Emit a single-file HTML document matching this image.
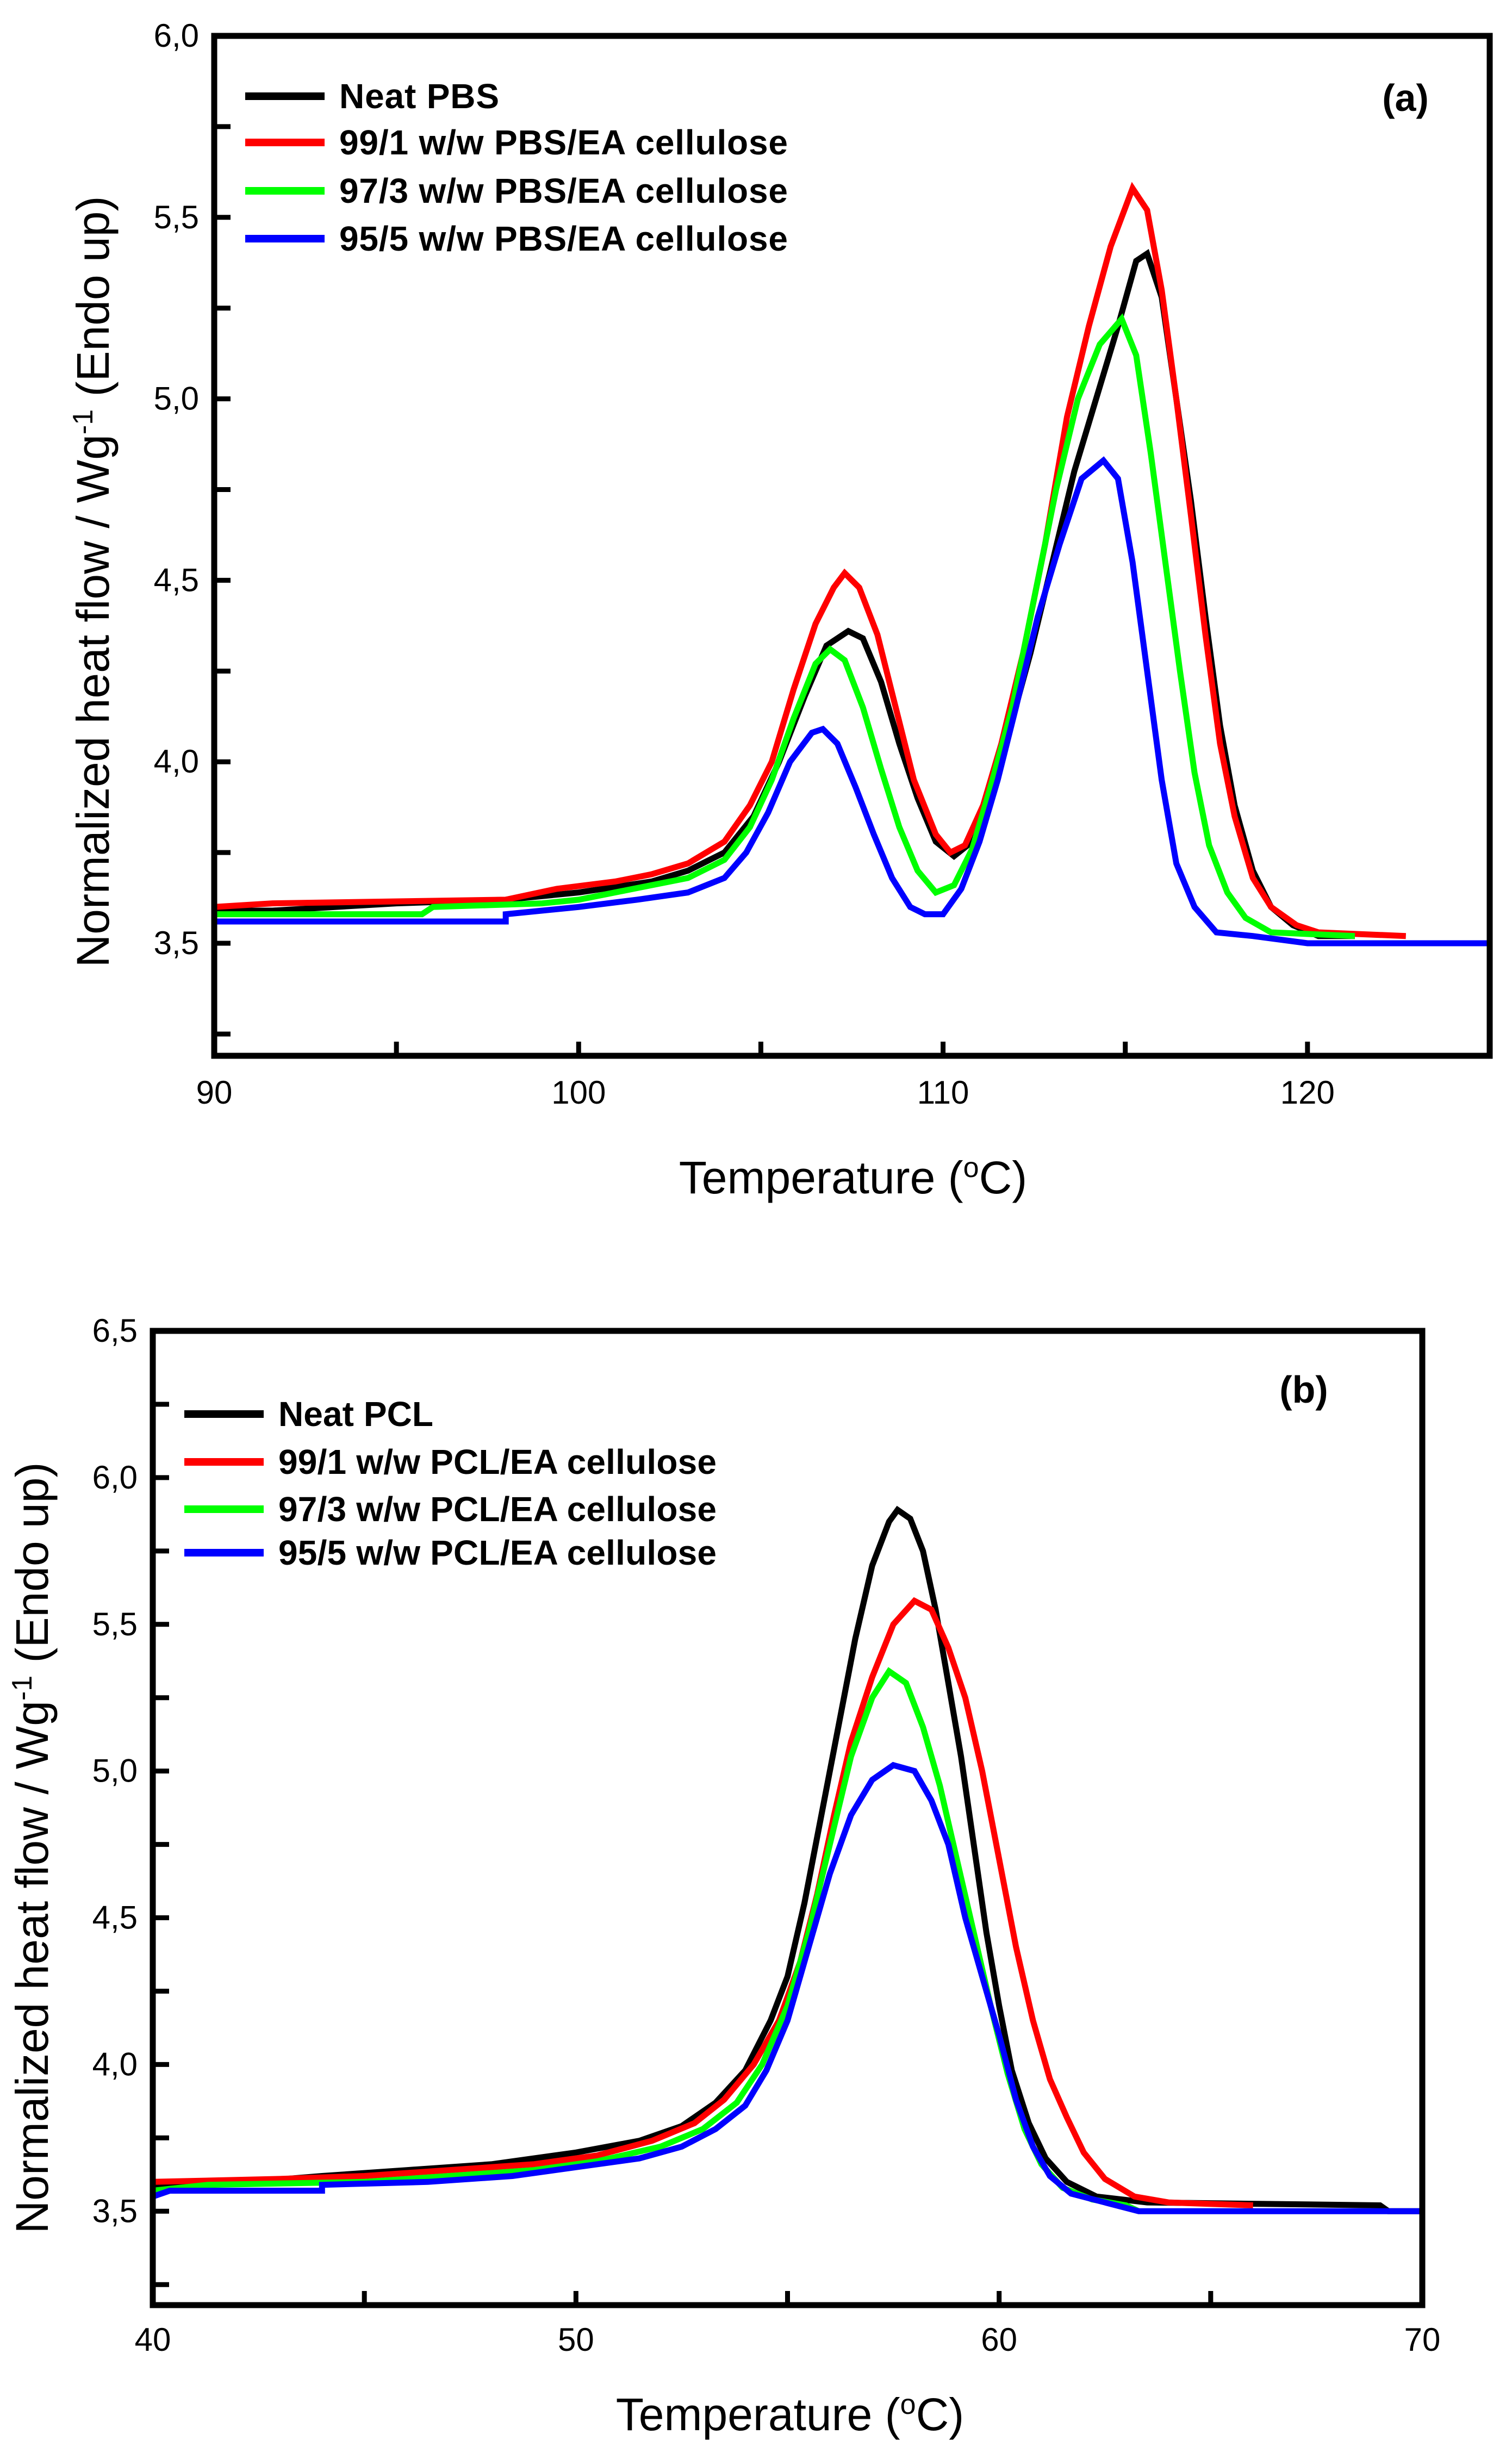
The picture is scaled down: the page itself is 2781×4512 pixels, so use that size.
<!DOCTYPE html>
<html><head><meta charset="utf-8"><style>
html,body{margin:0;padding:0;background:#fff}
svg{display:block;font-family:"Liberation Sans",Arial,sans-serif}
</style></head><body>
<svg id="fig" width="2781" height="4512" viewBox="0 0 2781 4512" xmlns="http://www.w3.org/2000/svg"></svg>
<script>
// ---- Panel (a) data: PBS ----
const aNames = ["Neat PBS","99/1 w/w PBS/EA cellulose","97/3 w/w PBS/EA cellulose","95/5 w/w PBS/EA cellulose"];
const aXTicks = [90,100,110,120];
const aYTicks = [3.5,4.0,4.5,5.0,5.5,6.0];
const aBlack = [[90,3.59],[91.6,3.59],[95,3.61],[98,3.62],[100,3.64],[102,3.67],[103,3.70],[104,3.75],[104.8,3.85],[105.5,4.0],[106.2,4.18],[106.8,4.32],[107.4,4.36],[107.8,4.34],[108.3,4.22],[108.8,4.05],[109.3,3.9],[109.8,3.78],[110.3,3.74],[110.8,3.78],[111.3,3.9],[111.8,4.08],[112.4,4.3],[113,4.55],[113.6,4.8],[114.2,5.0],[114.8,5.2],[115.3,5.38],[115.6,5.40],[116,5.28],[116.4,5.0],[116.8,4.72],[117.2,4.4],[117.6,4.1],[118,3.88],[118.5,3.7],[119,3.6],[119.6,3.55],[120.3,3.52],[121.3,3.52]];
const aRed = [[90,3.60],[91.6,3.61],[98,3.62],[99.4,3.65],[101,3.67],[102,3.69],[103,3.72],[104,3.78],[104.7,3.88],[105.3,4.0],[105.9,4.2],[106.5,4.38],[107,4.48],[107.3,4.52],[107.7,4.48],[108.2,4.35],[108.7,4.15],[109.2,3.95],[109.8,3.8],[110.2,3.75],[110.6,3.77],[111.1,3.88],[111.6,4.05],[112.2,4.3],[112.8,4.6],[113.4,4.95],[114,5.2],[114.6,5.42],[115.2,5.58],[115.6,5.52],[116,5.3],[116.4,5.0],[116.8,4.68],[117.2,4.35],[117.6,4.05],[118,3.85],[118.5,3.68],[119,3.6],[119.7,3.55],[120.3,3.53],[122.7,3.52]];
const aGreen = [[90,3.58],[95.7,3.58],[96,3.60],[99,3.61],[100,3.62],[101.5,3.65],[103,3.68],[104,3.73],[104.7,3.82],[105.3,3.95],[105.9,4.12],[106.5,4.27],[106.9,4.31],[107.3,4.28],[107.8,4.15],[108.3,3.98],[108.8,3.82],[109.3,3.7],[109.8,3.64],[110.3,3.66],[110.8,3.76],[111.3,3.93],[111.9,4.15],[112.5,4.45],[113.1,4.75],[113.7,5.0],[114.3,5.15],[114.9,5.22],[115.3,5.12],[115.7,4.85],[116.1,4.55],[116.5,4.25],[116.9,3.97],[117.3,3.77],[117.8,3.64],[118.3,3.57],[119,3.53],[121.3,3.52]];
const aBlue = [[90,3.56],[98,3.56],[98,3.58],[100,3.60],[101.6,3.62],[103,3.64],[104,3.68],[104.6,3.75],[105.2,3.86],[105.8,4.0],[106.4,4.08],[106.7,4.09],[107.1,4.05],[107.6,3.93],[108.1,3.8],[108.6,3.68],[109.1,3.6],[109.5,3.58],[110,3.58],[110.5,3.65],[111,3.78],[111.5,3.95],[112,4.15],[112.6,4.4],[113.2,4.6],[113.8,4.78],[114.4,4.83],[114.8,4.78],[115.2,4.55],[115.6,4.25],[116,3.95],[116.4,3.72],[116.9,3.6],[117.5,3.53],[118.5,3.52],[120,3.50],[125,3.50]];
// ---- Panel (b) data: PCL ----
const bNames = ["Neat PCL","99/1 w/w PCL/EA cellulose","97/3 w/w PCL/EA cellulose","95/5 w/w PCL/EA cellulose"];
const bXTicks = [40,50,60,70];
const bYTicks = [3.5,4.0,4.5,5.0,5.5,6.0,6.5];
const bBlack = [[40,3.59],[42.3,3.60],[44,3.62],[46,3.64],[48,3.66],[50,3.70],[51.5,3.74],[52.5,3.79],[53.3,3.87],[54,3.98],[54.6,4.15],[55,4.3],[55.4,4.55],[55.8,4.85],[56.2,5.15],[56.6,5.45],[57,5.7],[57.4,5.85],[57.6,5.89],[57.9,5.86],[58.2,5.75],[58.5,5.55],[58.8,5.3],[59.1,5.05],[59.4,4.75],[59.7,4.45],[60,4.2],[60.3,3.98],[60.7,3.8],[61.1,3.68],[61.6,3.6],[62.3,3.55],[63.5,3.53],[69,3.52],[69.2,3.50],[70,3.50]];
const bRed = [[40,3.60],[43,3.61],[45,3.62],[47,3.64],[49,3.66],[50.5,3.69],[51.8,3.74],[52.8,3.8],[53.5,3.88],[54.2,4.0],[54.8,4.15],[55.3,4.35],[55.7,4.58],[56.1,4.85],[56.5,5.1],[57,5.32],[57.5,5.5],[58,5.58],[58.4,5.55],[58.8,5.42],[59.2,5.25],[59.6,5.0],[60,4.7],[60.4,4.4],[60.8,4.15],[61.2,3.95],[61.6,3.82],[62,3.7],[62.5,3.61],[63.2,3.55],[64,3.53],[66,3.52]];
const bGreen = [[40,3.57],[41.3,3.59],[45,3.60],[47,3.62],[49,3.64],[50.5,3.67],[52,3.72],[53,3.78],[53.8,3.87],[54.4,4.0],[55,4.2],[55.5,4.45],[56,4.75],[56.5,5.05],[57,5.25],[57.4,5.34],[57.8,5.3],[58.2,5.15],[58.6,4.95],[59,4.7],[59.4,4.45],[59.8,4.2],[60.2,3.97],[60.6,3.78],[61,3.66],[61.5,3.58],[62.2,3.54],[63,3.52],[63.3,3.50]];
const bBlue = [[40,3.55],[40.4,3.57],[44,3.57],[44,3.59],[46.5,3.60],[48.5,3.62],[50,3.65],[51.5,3.68],[52.5,3.72],[53.3,3.78],[54,3.86],[54.5,3.98],[55,4.15],[55.5,4.4],[56,4.65],[56.5,4.85],[57,4.97],[57.5,5.02],[58,5.0],[58.4,4.9],[58.8,4.75],[59.2,4.5],[59.6,4.3],[60,4.1],[60.4,3.88],[60.8,3.72],[61.2,3.62],[61.7,3.56],[62.5,3.53],[63.3,3.50],[70,3.50]];
const colors = ["#000000","#ff0000","#00ff00","#0000ff"];

const NS = "http://www.w3.org/2000/svg";
const svg = document.getElementById('fig');
function mk(tag, attrs, parent){
  const e = document.createElementNS(NS, tag);
  for (const k in attrs) e.setAttribute(k, attrs[k]);
  (parent||svg).appendChild(e); return e;
}

function panel(cfg){
  const g = mk('g', {});
  
  
  const sx = v => cfg.L + (v - cfg.x0) / (cfg.x1 - cfg.x0) * (cfg.R - cfg.L);
  const sy = v => cfg.B - (v - cfg.y0) / (cfg.y1 - cfg.y0) * (cfg.B - cfg.T);
  cfg.series.forEach((s, i) => {
    const d = s.map((p, j) => (j ? 'L' : 'M') + sx(p[0]).toFixed(1) + ' ' + sy(p[1]).toFixed(1)).join(' ');
    const path = mk('path', {d: d, fill: 'none', stroke: colors[i], 'stroke-width': 11, 'stroke-linejoin': 'miter'}, g);
    
    
  });
  const fr = mk('rect', {x: cfg.L, y: cfg.T, width: cfg.R - cfg.L, height: cfg.B - cfg.T, fill: 'none', stroke: '#000', 'stroke-width': 11}, g);
  
  
  for (let v = cfg.yTicks[0] - 0.25; v <= cfg.y1 + 1e-9; v += 0.25) {
    if (v < cfg.y0) continue;
    const t = mk('line', {x1: cfg.L, x2: cfg.L + 30, y1: sy(v), y2: sy(v), stroke: '#000', 'stroke-width': 9}, g);
    
    
  }
  cfg.yTicks.forEach(v => {
    const t = mk('text', {x: cfg.L - 28, y: sy(v) + 20, 'text-anchor': 'end', 'font-size': 60}, g);
    t.textContent = v.toFixed(1).replace('.', ',');
    
    
  });
  for (let v = cfg.x0; v <= cfg.x1 + 1e-9; v += 5) {
    const t = mk('line', {x1: sx(v), x2: sx(v), y1: cfg.B, y2: cfg.B - 26, stroke: '#000', 'stroke-width': 9}, g);
    
    
  }
  cfg.xTicks.forEach(v => {
    const t = mk('text', {x: sx(v), y: cfg.xLabY, 'text-anchor': 'middle', 'font-size': 60}, g);
    t.textContent = v;
    
    
  });
  const xt = mk('text', {x: cfg.xtX, y: cfg.xtY, 'text-anchor': 'middle', 'font-size': 84}, g);
  xt.innerHTML = 'Temperature (<tspan dy="-30" font-size="52">o</tspan><tspan dy="30">C)</tspan>';
  
  
  const yt = mk('text', {x: 0, y: 0, 'text-anchor': 'middle', 'font-size': 84, transform: 'translate(' + cfg.ytX + ',' + cfg.ytY + ') rotate(-90)'}, g);
  yt.innerHTML = 'Normalized heat flow / Wg<tspan dy="-30" font-size="52">-1</tspan><tspan dy="30"> (Endo up)</tspan>';
  
  
  cfg.names.forEach((n, i) => {
    const y = cfg.legY[i];
    const ln = mk('line', {x1: cfg.legX1, x2: cfg.legX2, y1: y, y2: y, stroke: colors[i], 'stroke-width': 14}, g);
    
    
    const t = mk('text', {x: cfg.legTX, y: y + 22, 'font-size': 64, 'font-weight': 'bold', textLength: i === 0 ? cfg.legLen0 : cfg.legLen, lengthAdjust: 'spacing'}, g);
    t.textContent = n;
    
    
  });
  const pl = mk('text', {x: cfg.plX, y: cfg.plY, 'text-anchor': 'middle', 'font-size': 70, 'font-weight': 'bold'}, g);
  pl.textContent = cfg.label;
  
  
}

panel({id: 'panel-a-pbs-chart', L: 394, R: 2740, T: 66, B: 1942, x0: 90, x1: 125, y0: 3.19, y1: 6.0,
  series: [aBlack, aRed, aGreen, aBlue], names: aNames, xTicks: aXTicks, yTicks: aYTicks,
  xLabY: 2030, xtX: 1569, xtY: 2195, ytX: 200, ytY: 1070,
  legX1: 451, legX2: 597, legTX: 624, legY: [177, 262, 351, 439], legLen0: 294, legLen: 825, label: '(a)', plX: 2585, plY: 204});
panel({id: 'panel-b-pcl-chart', L: 281, R: 2616, T: 2448, B: 4240, x0: 40, x1: 70, y0: 3.18, y1: 6.5,
  series: [bBlack, bRed, bGreen, bBlue], names: bNames, xTicks: bXTicks, yTicks: bYTicks,
  xLabY: 4324, xtX: 1453, xtY: 4470, ytX: 88, ytY: 3399,
  legX1: 339, legX2: 485, legTX: 512, legY: [2601, 2689, 2776, 2856], legLen0: 285, legLen: 806, label: '(b)', plX: 2398, plY: 2580});
</script>
</body></html>
